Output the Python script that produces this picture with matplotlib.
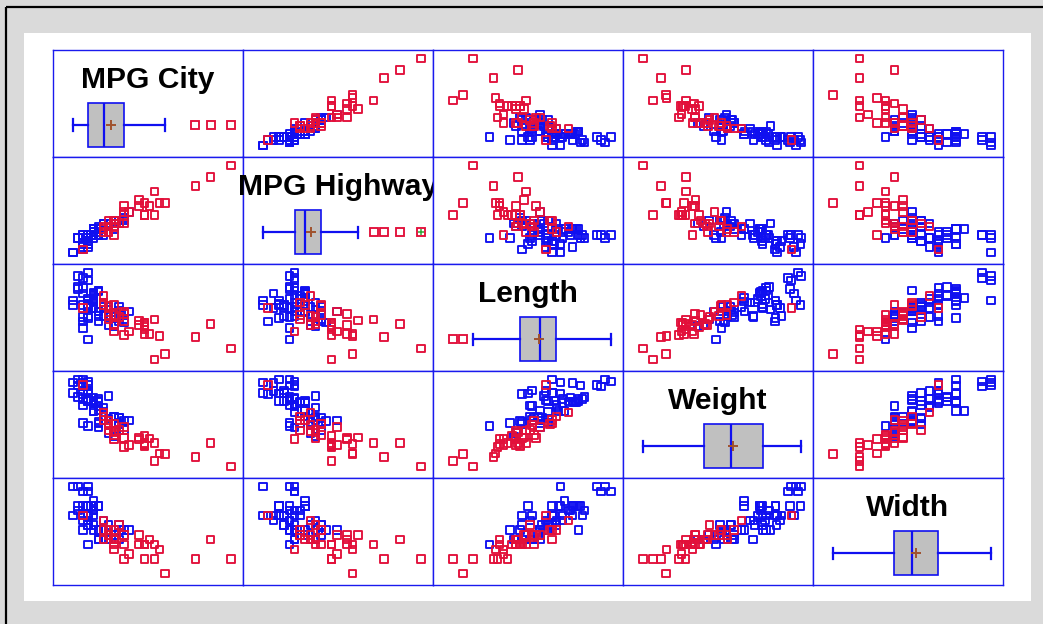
import numpy as np
import matplotlib
matplotlib.use("Agg")
import matplotlib.pyplot as plt
from matplotlib.patches import Rectangle

# 1993 car models: fuel economy and size measurements
mpg_city = [25, 18, 20, 19, 22, 22, 19, 16, 19, 16,
            16, 25, 25, 19, 21, 18, 15, 17, 17, 20,
            23, 20, 29, 23, 22, 17, 21, 18, 29, 20,
            31, 23, 22, 22, 24, 15, 21, 18, 46, 30,
            24, 42, 24, 29, 22, 26, 20, 17, 18, 18,
            17, 18, 29, 28, 26, 18, 17, 20, 19, 23,
            19, 29, 18, 29, 24, 17, 21, 24, 23, 18,
            19, 23, 31, 23, 19, 19, 19, 20, 28, 33,
            25, 23, 39, 32, 25, 22, 18, 25, 17, 21,
            18, 21, 20]

mpg_highway = [31, 25, 26, 26, 30, 31, 28, 25, 27, 25,
               25, 36, 34, 28, 29, 23, 20, 26, 25, 28,
               28, 26, 33, 29, 27, 21, 27, 24, 33, 28,
               33, 30, 27, 29, 30, 20, 30, 26, 50, 36,
               31, 46, 31, 33, 29, 34, 27, 22, 24, 23,
               26, 26, 37, 36, 34, 24, 25, 29, 25, 26,
               26, 33, 24, 33, 30, 23, 26, 31, 31, 23,
               28, 30, 41, 31, 28, 27, 28, 26, 38, 37,
               30, 30, 43, 37, 32, 29, 22, 33, 21, 30,
               25, 28, 28]

length = [177, 195, 180, 192, 186, 189, 200, 216, 198, 206,
          204, 182, 184, 193, 198, 178, 194, 214, 179, 203,
          183, 203, 174, 172, 181, 175, 192, 180, 174, 202,
          141, 171, 177, 180, 179, 190, 192, 212, 151, 164,
          175, 173, 185, 168, 172, 166, 184, 200, 188, 191,
          205, 219, 164, 172, 184, 190, 169, 175, 187, 166,
          199, 172, 190, 170, 181, 190, 188, 188, 190, 194,
          201, 173, 177, 181, 196, 195, 200, 184, 176, 146,
          175, 179, 161, 162, 174, 188, 187, 163, 187, 180,
          159, 190, 184]

weight = [2705, 3560, 3375, 3405, 3640, 2880, 3470, 4105, 3495, 3620,
          3935, 2490, 2785, 3240, 3195, 3715, 4025, 3910, 3380, 3515,
          3085, 3570, 2270, 2670, 2970, 3705, 3080, 3805, 2295, 3490,
          1845, 2530, 2690, 2850, 2710, 3735, 3325, 3950, 1695, 2475,
          2865, 2350, 3040, 2345, 2620, 2285, 2885, 4000, 3510, 3515,
          3570, 4055, 2325, 2440, 2970, 3735, 2895, 2920, 3525, 2450,
          3610, 2295, 3730, 2545, 3050, 4100, 3200, 2910, 2890, 3715,
          3470, 2640, 2350, 2575, 3240, 3450, 3495, 2775, 2495, 2045,
          2490, 3085, 1965, 2055, 2950, 3030, 3785, 2240, 3960, 2985,
          2810, 2985, 3245]

width = [68, 71, 67, 70, 69, 69, 74, 78, 73, 73,
         74, 68, 68, 74, 71, 74, 78, 77, 71, 74,
         68, 69, 66, 67, 68, 72, 69, 72, 66, 74,
         63, 67, 68, 68, 70, 72, 71, 78, 63, 67,
         70, 67, 70, 63, 67, 64, 69, 72, 70, 72,
         72, 77, 66, 66, 69, 72, 69, 67, 69, 65,
         73, 66, 70, 66, 67, 74, 69, 69, 69, 74,
         74, 67, 66, 66, 75, 72, 74, 67, 68, 60,
         66, 67, 63, 65, 69, 70, 71, 63, 72, 67,
         66, 67, 69]

horsepower = [140, 200, 172, 172, 208, 110, 170, 180, 170, 200,
              295, 110, 110, 160, 110, 170, 165, 170, 300, 153,
              141, 147, 92, 93, 100, 142, 100, 300, 92, 214,
              63, 127, 96, 105, 115, 145, 140, 190, 55, 90,
              160, 102, 140, 81, 124, 92, 128, 278, 185, 225,
              160, 210, 82, 103, 164, 155, 255, 130, 217, 100,
              140, 92, 202, 110, 150, 151, 160, 155, 110, 170,
              170, 92, 74, 110, 160, 200, 170, 140, 85, 73,
              90, 130, 70, 82, 135, 130, 138, 81, 109, 134,
              178, 114, 168]

var_names = ["MPG City", "MPG Highway", "Length", "Weight", "Width"]
var_values = [mpg_city, mpg_highway, length, weight, width]
hp_cut = 115

BLUE = "#1010f0"
RED = "#e2103a"
FRAME = "#1a1aee"

W, H = 1043, 624
fig = plt.figure(figsize=(W / 100, H / 100), dpi=100)
fig.patch.set_facecolor("#dadada")

# page background: white panel and dark rule on top / left
bg = fig.add_axes([0, 0, 1, 1])
bg.set_xlim(0, W)
bg.set_ylim(H, 0)
bg.axis("off")
bg.add_patch(Rectangle((24, 33), 1007, 568, facecolor="white", edgecolor="none"))
bg.plot([5.5, 5.5], [6.5, H + 5], color="black", lw=1.6, solid_capstyle="butt")
bg.plot([5.5, W + 5], [6.5, 6.5], color="black", lw=1.6, solid_capstyle="butt")

x0, y0, cw, ch = 53, 50, 190, 107
n = len(var_names)
low_hp = np.array(horsepower) <= hp_cut


def x_limits(v):
    v = np.asarray(v, float)
    r = v.max() - v.min()
    return v.min() - 20 / 158 * r, v.max() + 12 / 158 * r


def y_limits(v):
    v = np.asarray(v, float)
    r = v.max() - v.min()
    return v.min() - 11.5 / 87 * r, v.max() + 8.5 / 87 * r


def make_cell(r, c):
    left = x0 + c * cw
    top = y0 + r * ch
    ax = fig.add_axes([left / W, 1 - (top + ch) / H, cw / W, ch / H])
    ax.set_facecolor("white")
    ax.set_xticks([])
    ax.set_yticks([])
    for s in ax.spines.values():
        s.set_color(FRAME)
        s.set_linewidth(1.0)
    return ax


title_font = dict(family=["Liberation Sans", "DejaVu Sans"], weight="bold", size=21.6)
mk_size = 30
mk_lw = 1.35

for r in range(n):
    for c in range(n):
        ax = make_cell(r, c)
        xv = np.asarray(var_values[c], float)
        ax.set_xlim(*x_limits(xv))
        if r == c:
            ax.set_ylim(107, 0)
            ax.boxplot(xv, orientation="horizontal", positions=[75], widths=44,
                       capwidths=11, patch_artist=True, showmeans=True,
                       manage_ticks=False,
                       boxprops=dict(facecolor="#c0c0c0", edgecolor=BLUE, linewidth=1.2),
                       medianprops=dict(color=BLUE, linewidth=1.6),
                       whiskerprops=dict(color=BLUE, linewidth=1.6),
                       capprops=dict(color=BLUE, linewidth=1.6),
                       meanprops=dict(marker="+", markeredgecolor="#a0522d",
                                      markersize=7, markeredgewidth=1.4),
                       flierprops=dict(marker="s", markerfacecolor="none",
                                       markeredgecolor=RED, markersize=5.4,
                                       markeredgewidth=mk_lw))
            if var_names[c] == "MPG Highway":
                ax.plot([xv.max()], [75], marker="+", color="#2fa83a",
                        markersize=5, markeredgewidth=1.1)
            ax.set_xlim(*x_limits(xv))
            ax.set_ylim(107, 0)
            xc = sum(ax.get_xlim()) / 2
            ax.text(xc, 38, var_names[c], ha="center", va="baseline",
                    color="black", clip_on=False, zorder=5, **title_font)
        else:
            yv = np.asarray(var_values[r], float)
            ax.set_ylim(*y_limits(yv))
            ax.scatter(xv[~low_hp], yv[~low_hp], marker="s", s=mk_size,
                       facecolors="none", edgecolors=BLUE, linewidths=mk_lw)
            ax.scatter(xv[low_hp], yv[low_hp], marker="s", s=mk_size,
                       facecolors="none", edgecolors=RED, linewidths=mk_lw)

fig.savefig("out.png", dpi=100, facecolor=fig.get_facecolor())
